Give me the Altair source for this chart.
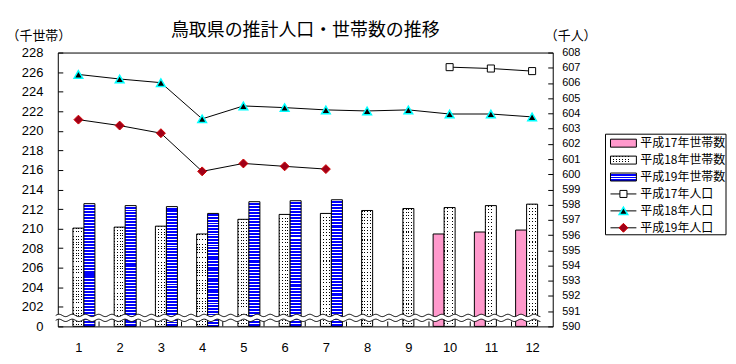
import altair as alt
import pandas as pd
import numpy as np

# ---------------- data ----------------
months = list(range(1, 13))
h17_months = [10, 11, 12]
h18_months = months
h19_months = [1, 2, 3, 4, 5, 6, 7]

# households (thousand)
hh_h17 = [209.45, 209.65, 209.85]
hh_h18 = [210.05, 210.15, 210.25, 209.45, 210.95, 211.45, 211.55, 211.85, 212.05, 212.15, 212.35, 212.5]
hh_h19 = [212.55, 212.35, 212.25, 211.55, 212.75, 212.85, 212.95]

# population (thousand)
pop_h17 = [607.04, 606.95, 606.78]
pop_h18 = [606.56, 606.26, 606.02, 603.64, 604.49, 604.38, 604.23, 604.16, 604.23, 603.96, 603.96, 603.77]
pop_h19 = [603.59, 603.2, 602.7, 600.19, 600.71, 600.52, 600.34]

legend_labels = ["平成17年世帯数", "平成18年世帯数", "平成19年世帯数",
                 "平成17年人口", "平成18年人口", "平成19年人口"]
title_text = "鳥取県の推計人口・世帯数の推移"
left_title = "（千世帯）"
right_title = "（千人）"

left_ticks = list(range(200, 229, 2))
right_ticks = list(range(590, 609, 1))

# ---------------- styles ----------------
JP = "Noto Sans CJK JP"
NUM = "Liberation Sans"
PINK = "#FF99CC"
BLUE = "#0000FF"


def stripe_gradient(c_on, c_off, n, frac, vertical=True):
    stops = []
    for i in range(n):
        a = round(i / n, 5)
        b = round((i + frac) / n, 5)
        c = round(min((i + 1) / n, 1.0), 5)
        stops += [{"offset": a, "color": c_on}, {"offset": b, "color": c_on},
                  {"offset": b, "color": c_off}, {"offset": c, "color": c_off}]
    return {"gradient": "linear", "stops": stops,
            "x1": 0, "y1": 0, "x2": 0 if vertical else 1, "y2": 1 if vertical else 0}


blue_grad = stripe_gradient("white", BLUE, 41, 0.33)
dot_rows = stripe_gradient("black", "white", 36, 0.32)
dot_cols = stripe_gradient("rgba(255,255,255,0)", "white", 4, 0.32, vertical=False)
blue_grad_sw = stripe_gradient("white", BLUE, 3, 0.33)
dot_rows_sw = stripe_gradient("black", "white", 3, 0.3)
dot_cols_sw = stripe_gradient("rgba(255,255,255,0)", "white", 9, 0.3, vertical=False)

x_scale = alt.Scale(domain=[0.5, 12.5], nice=False, zero=False)
x_axis = alt.Axis(values=months, format="d", ticks=False, tickSize=0, domain=False, grid=False,
                  labelPadding=15, labelFont=NUM, labelFontSize=13, labelColor="black",
                  title=None, labelFlush=False, labelOverlap=False)
left_scale = alt.Scale(domain=[200, 228], nice=False, zero=False)
left_axis = alt.Axis(values=left_ticks, labelExpr="datum.value == 200 ? '0' : datum.label",
                     offset=-5, domain=False, grid=False, tickSize=5, tickColor="black",
                     labelPadding=15, labelFont=NUM, labelFontSize=13, labelColor="black",
                     title=None, labelOverlap=False, labelFlush=False)
right_scale = alt.Scale(domain=[590, 608], nice=False, zero=False)
right_axis = alt.Axis(orient="right", values=right_ticks, offset=-5, domain=False, grid=False,
                      tickSize=5, tickColor="black", labelPadding=9, labelFont=NUM,
                      labelFontSize=11, labelColor="black", title=None,
                      labelOverlap=False, labelFlush=False)

# ---------------- tables ----------------
df17 = pd.DataFrame({"month": h17_months, "hh": hh_h17, "pop": pop_h17, "idx": 0})
df18 = pd.DataFrame({"month": h18_months, "hh": hh_h18, "pop": pop_h18, "idx": 1})
df19 = pd.DataFrame({"month": h19_months, "hh": hh_h19, "pop": pop_h19, "idx": 2})


def bar_base(df):
    return alt.Chart(df).transform_calculate(
        x0="datum.month - 0.4 + datum.idx * 0.8 / 3",
        x1="datum.month - 0.4 + (datum.idx + 1) * 0.8 / 3",
        base="200",
    ).encode(
        x=alt.X("x0:Q", scale=x_scale, axis=x_axis),
        x2="x1:Q",
        y=alt.Y("hh:Q", scale=left_scale, axis=left_axis),
        y2="base:Q",
    )


bars17 = bar_base(df17).mark_bar(fill=PINK, stroke="black", strokeWidth=1)
bars18a = bar_base(df18).mark_bar(fill=dot_rows, strokeWidth=0)
bars18b = bar_base(df18).mark_bar(fill=dot_cols, stroke="black", strokeWidth=1)
bars19 = bar_base(df19).mark_bar(fill=blue_grad, stroke="black", strokeWidth=1)

# category boundary ticks on the bottom edge
tick_df = pd.DataFrame({"month": months[:-1]})
cat_ticks = alt.Chart(tick_df).transform_calculate(
    bx="datum.month + 0.5", lo="200", hi="200.5"
).mark_rule(color="black", strokeWidth=1).encode(
    x=alt.X("bx:Q", scale=x_scale, axis=x_axis),
    y=alt.Y("lo:Q", scale=left_scale, axis=left_axis),
    y2="hi:Q",
)

# axis-break wave (decoration)
wx = np.linspace(0.45, 12.2, 700)
ph = (wx - 0.45) * (2 * np.pi / 0.32)
wave_df = pd.DataFrame({"wx": wx, "wu": 201.12 + 0.12 * np.sin(ph), "wl": 200.62 + 0.12 * np.sin(ph)})
wave_band = alt.Chart(wave_df).mark_area(fill="white", opacity=1).encode(
    x=alt.X("wx:Q", scale=x_scale, axis=x_axis),
    y=alt.Y("wu:Q", scale=left_scale, axis=left_axis),
    y2="wl:Q",
)
wave_up = alt.Chart(wave_df).mark_line(color="black", strokeWidth=1).encode(
    x=alt.X("wx:Q", scale=x_scale, axis=x_axis),
    y=alt.Y("wu:Q", scale=left_scale, axis=left_axis),
)
wave_lo = alt.Chart(wave_df).mark_line(color="black", strokeWidth=1).encode(
    x=alt.X("wx:Q", scale=x_scale, axis=x_axis),
    y=alt.Y("wl:Q", scale=left_scale, axis=left_axis),
)

left_group = alt.layer(bars17, bars18a, bars18b, bars19, cat_ticks, wave_band, wave_up, wave_lo)


def pop_enc(ch):
    return ch.encode(
        x=alt.X("month:Q", scale=x_scale, axis=x_axis),
        y=alt.Y("pop:Q", scale=right_scale, axis=right_axis),
    )


line17 = pop_enc(alt.Chart(df17).mark_line(color="black", strokeWidth=1))
line18 = pop_enc(alt.Chart(df18).mark_line(color="black", strokeWidth=1))
line19 = pop_enc(alt.Chart(df19).mark_line(color="black", strokeWidth=1))
pt17 = pop_enc(alt.Chart(df17).mark_point(shape="square", filled=True, fill="white", stroke="black",
                                          strokeWidth=1, size=50, opacity=1))
pt18 = pop_enc(alt.Chart(df18).mark_point(shape="triangle-up", filled=True, fill="black", stroke="#00FFFF",
                                          strokeWidth=1.5, size=75, opacity=1))
pt19 = pop_enc(alt.Chart(df19).mark_point(shape="diamond", filled=True, fill="#A00018", stroke="#D00000",
                                          strokeWidth=1, size=80, opacity=1))

right_group = alt.layer(line17, line18, line19, pt17, pt18, pt19)

# ---------------- decoration: titles and legend ----------------
txt_df = pd.DataFrame({"t": [title_text, left_title, right_title],
                       "px": [248.5, -19, 515], "py": [-22, -17, -17],
                       "fs": [18, 13, 13]})
titles = alt.Chart(txt_df).mark_text(font=JP, color="black", align="center", baseline="middle").encode(
    x=alt.X("px:Q", scale=None, axis=None),
    y=alt.Y("py:Q", scale=None, axis=None),
    text="t:N",
    size=alt.Size("fs:Q", scale=None, legend=None),
)

leg_df = pd.DataFrame({"label": legend_labels, "i": list(range(6))})
leg = alt.Chart(leg_df).transform_calculate(py="91 + 17 * datum.i", ya="87 + 17 * datum.i", yb="95 + 17 * datum.i")

leg_box = alt.Chart(pd.DataFrame({"k": [0]})).mark_rect(fill="white", stroke="black", strokeWidth=1).encode(
    x=alt.value(550), x2=alt.value(671), y=alt.value(82), y2=alt.value(183)
)
leg_text = leg.mark_text(font=JP, fontSize=12, color="black", align="left", baseline="middle").encode(
    x=alt.value(585), y=alt.Y("py:Q", scale=None, axis=None), text="label:N"
)


def swatch(i, **kw):
    return leg.transform_filter(f"datum.i == {i}").mark_rect(**kw).encode(
        x=alt.value(555), x2=alt.value(581),
        y=alt.Y("ya:Q", scale=None, axis=None), y2="yb:Q",
    )


sw17 = swatch(0, fill=PINK, stroke="black", strokeWidth=1)
sw18a = swatch(1, fill=dot_rows_sw, strokeWidth=0)
sw18b = swatch(1, fill=dot_cols_sw, stroke="black", strokeWidth=1)
sw19 = swatch(2, fill=blue_grad_sw, stroke="black", strokeWidth=1)

leg_rules = leg.transform_filter("datum.i >= 3").mark_rule(color="black", strokeWidth=1).encode(
    x=alt.value(555), x2=alt.value(581), y=alt.Y("py:Q", scale=None, axis=None)
)


def leg_pt(i, **kw):
    return leg.transform_filter(f"datum.i == {i}").mark_point(**kw).encode(
        x=alt.value(568), y=alt.Y("py:Q", scale=None, axis=None)
    )


lp17 = leg_pt(3, shape="square", filled=True, fill="white", stroke="black", strokeWidth=1, size=50, opacity=1)
lp18 = leg_pt(4, shape="triangle-up", filled=True, fill="black", stroke="#00FFFF", strokeWidth=1.5, size=75, opacity=1)
lp19 = leg_pt(5, shape="diamond", filled=True, fill="#A00018", stroke="#D00000", strokeWidth=1, size=80, opacity=1)

deco = alt.layer(titles, leg_box, leg_text, sw17, sw18a, sw18b, sw19, leg_rules, lp17, lp18, lp19)

chart = alt.layer(left_group, right_group, deco).resolve_scale(y="independent").properties(
    width=497, height=275,
    autosize=alt.AutoSizeParams(type="none"),
    padding={"left": 50, "top": 44, "right": 176, "bottom": 28},
    background="white",
).configure_view(stroke="black", strokeWidth=1)

chart.save("out.html", embed_options={"renderer": "svg", "actions": False})
